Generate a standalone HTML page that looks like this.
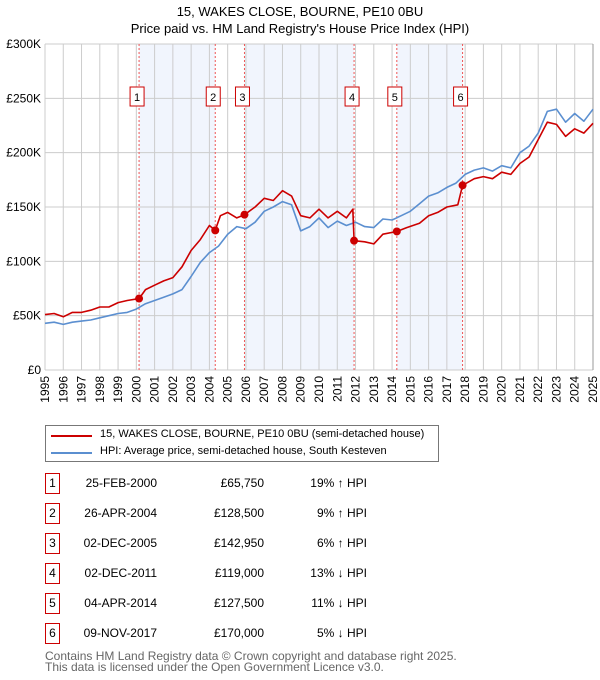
<!DOCTYPE html>
<html><head><meta charset="utf-8">
<style>
body{margin:0;background:#fff;font-family:"Liberation Sans","DejaVu Sans",sans-serif;}
#wrap{position:relative;width:600px;height:680px;overflow:hidden;}
.t{position:absolute;font-size:12px;color:#000;white-space:nowrap;}
.box{position:absolute;width:13px;height:19px;border:1px solid #c00;font-size:12px;text-align:center;line-height:19px;}
</style></head>
<body><div id="wrap">
<div class="t" style="left:0;width:600px;text-align:center;top:4px;font-size:13px;">15, WAKES CLOSE, BOURNE, PE10 0BU</div>
<div class="t" style="left:0;width:600px;text-align:center;top:21px;font-size:13px;">Price paid vs. HM Land Registry's House Price Index (HPI)</div>
<svg id="chart" width="600" height="420" style="position:absolute;left:0;top:0"></svg>
<div style="position:absolute;left:45px;top:425px;width:392px;height:35px;border:1px solid #777;">
 <div style="position:absolute;left:5px;top:9px;width:41px;height:2px;background:#c00"></div>
 <div class="t" style="left:54px;top:2px;font-size:11px">15, WAKES CLOSE, BOURNE, PE10 0BU (semi-detached house)</div>
 <div style="position:absolute;left:5px;top:26px;width:41px;height:2px;background:#5b8fd0"></div>
 <div class="t" style="left:54px;top:19px;font-size:11px">HPI: Average price, semi-detached house, South Kesteven</div>
</div>
<div id="table"></div>
<div class="t" style="left:45px;top:649px;color:#666;font-size:12px;">Contains HM Land Registry data © Crown copyright and database right 2025.</div>
<div class="t" style="left:45px;top:660px;color:#666;font-size:12px;">This data is licensed under the Open Government Licence v3.0.</div>
</div>
<script>
const hpiYears=[1995,1995.5,1996,1996.5,1997,1997.5,1998,1998.5,1999,1999.5,2000,2000.5,2001,2001.5,2002,2002.5,2003,2003.5,2004,2004.5,2005,2005.5,2006,2006.5,2007,2007.5,2008,2008.5,2009,2009.5,2010,2010.5,2011,2011.5,2012,2012.5,2013,2013.5,2014,2014.5,2015,2015.5,2016,2016.5,2017,2017.5,2018,2018.5,2019,2019.5,2020,2020.5,2021,2021.5,2022,2022.5,2023,2023.5,2024,2024.5,2025];
const hpiValues=[43,44,42,44,45,46,48,50,52,53,56,61,64,67,70,74,86,99,108,114,125,132,130,136,146,150,155,152,128,132,140,131,137,133,136,132,131,139,138,142,146,153,160,163,168,172,180,184,186,183,188,186,200,206,218,238,240,228,236,229,240];
const priceYears=[1995,1995.5,1996,1996.5,1997,1997.5,1998,1998.5,1999,1999.5,2000.15,2000.5,2001,2001.5,2002,2002.5,2003,2003.5,2004,2004.32,2004.6,2005,2005.5,2005.92,2006.5,2007,2007.5,2008,2008.5,2009,2009.5,2010,2010.5,2011,2011.5,2011.85,2011.92,2012.5,2013,2013.5,2014.26,2014.8,2015.5,2016,2016.5,2017,2017.6,2017.86,2018.5,2019,2019.5,2020,2020.5,2021,2021.5,2022,2022.5,2023,2023.5,2024,2024.5,2025];
const priceValues=[51,52,49,53,53,55,58,58,62,64,65.75,74,78,82,85,95,110,120,133,128.5,142,145,140,142.95,150,158,156,165,160,142,140,148,140,146,140,148,119,118,116,125,127.5,131,135,142,145,150,152,170,176,178,176,182,180,190,196,212,228,226,215,222,218,227];
const saleYears=[2000.15,2004.32,2005.92,2011.92,2014.26,2017.86];
const saleValues=[65.75,128.5,142.95,119,127.5,170];
const saleLabels=["1","2","3","4","5","6"];
const saleDates=["25-FEB-2000","26-APR-2004","02-DEC-2005","02-DEC-2011","04-APR-2014","09-NOV-2017"];
const salePrices=["£65,750","£128,500","£142,950","£119,000","£127,500","£170,000"];
const saleHpi=["19% ↑ HPI","9% ↑ HPI","6% ↑ HPI","13% ↓ HPI","11% ↓ HPI","5% ↓ HPI"];
const yTicks=[0,50,100,150,200,250,300];
const yTickLabels=["£0","£50K","£100K","£150K","£200K","£250K","£300K"];
const xTicks=[1995,1996,1997,1998,1999,2000,2001,2002,2003,2004,2005,2006,2007,2008,2009,2010,2011,2012,2013,2014,2015,2016,2017,2018,2019,2020,2021,2022,2023,2024,2025];

const X0=45,X1=593,Y0=370,Y1=44;
const xs=v=>X0+(v-1995)/30*(X1-X0);
const ys=v=>Y0-v/300*(Y0-Y1);
const NS="http://www.w3.org/2000/svg";
const svg=document.getElementById('chart');
function mk(tag,attrs){const e=document.createElementNS(NS,tag);for(const k in attrs)e.setAttribute(k,attrs[k]);svg.appendChild(e);return e;}
for(let i=0;i<saleYears.length;i+=2){
 const r=mk('rect',{x:xs(saleYears[i]),y:Y1,width:xs(saleYears[i+1])-xs(saleYears[i]),height:Y0-Y1,fill:'#eef3fc',opacity:0.8});
 
 
}
xTicks.forEach((t,i)=>{
 const l=mk('line',{x1:xs(t),x2:xs(t),y1:Y1,y2:Y0,stroke:'#ccc','stroke-width':1});
 
 
 const tx=mk('text',{x:0,y:0,'font-size':12,'text-anchor':'end',transform:`translate(${xs(t)+4},${Y0+6}) rotate(-90)`,fill:'#000'});
 tx.textContent=t;
 
 
});
yTicks.forEach((t,i)=>{
 const l=mk('line',{x1:X0,x2:X1,y1:ys(t),y2:ys(t),stroke:'#ccc','stroke-width':1});
 
 
 const tx=mk('text',{x:X0-4,y:ys(t)+4,'font-size':12,'text-anchor':'end',fill:'#000'});
 tx.textContent=yTickLabels[i];
 
 
});
const ax=mk('line',{x1:X1,x2:X1,y1:Y1,y2:Y0,stroke:'#999','stroke-width':1});


saleYears.forEach((s,i)=>{
 const l=mk('line',{x1:xs(s),x2:xs(s),y1:Y1,y2:Y0,stroke:'#e55','stroke-width':1,'stroke-dasharray':'2,2'});
 
 
 const bx=mk('rect',{x:xs(s)-9,y:87,width:14,height:19,fill:'#fff',stroke:'#c00','stroke-width':1});
 
 
 const tx=mk('text',{x:xs(s)-2,y:101,'font-size':11,'text-anchor':'middle',fill:'#000'});
 tx.textContent=saleLabels[i];
 
 
});
function path(xa,va,color,name){
 const d=xa.map((x,i)=>(i?'L':'M')+xs(x).toFixed(1)+','+ys(va[i]).toFixed(1)).join('');
 const p=mk('path',{d:d,fill:'none',stroke:color,'stroke-width':1.6,'stroke-linejoin':'round'});
 
 
}
path(hpiYears,hpiValues,'#5b8fd0','hpi-line');
path(priceYears,priceValues,'#c00','price-line');
saleYears.forEach((s,i)=>{
 const c=mk('circle',{cx:xs(s),cy:ys(saleValues[i]),r:4,fill:'#c00'});
 
 
});
const tb=document.getElementById('table');
saleLabels.forEach((lab,i)=>{
 const top=474+i*30;
 const row=document.createElement('div');
 
 
 row.innerHTML=`<div class="box" style="left:45px;top:${top-1}px">${lab}</div>
<div class="t" style="right:443px;top:${top+2}px">${saleDates[i]}</div>
<div class="t" style="right:336px;top:${top+2}px">${salePrices[i]}</div>
<div class="t" style="right:233px;top:${top+2}px">${saleHpi[i]}</div>`;
 tb.appendChild(row);
});
</script>
</body></html>
